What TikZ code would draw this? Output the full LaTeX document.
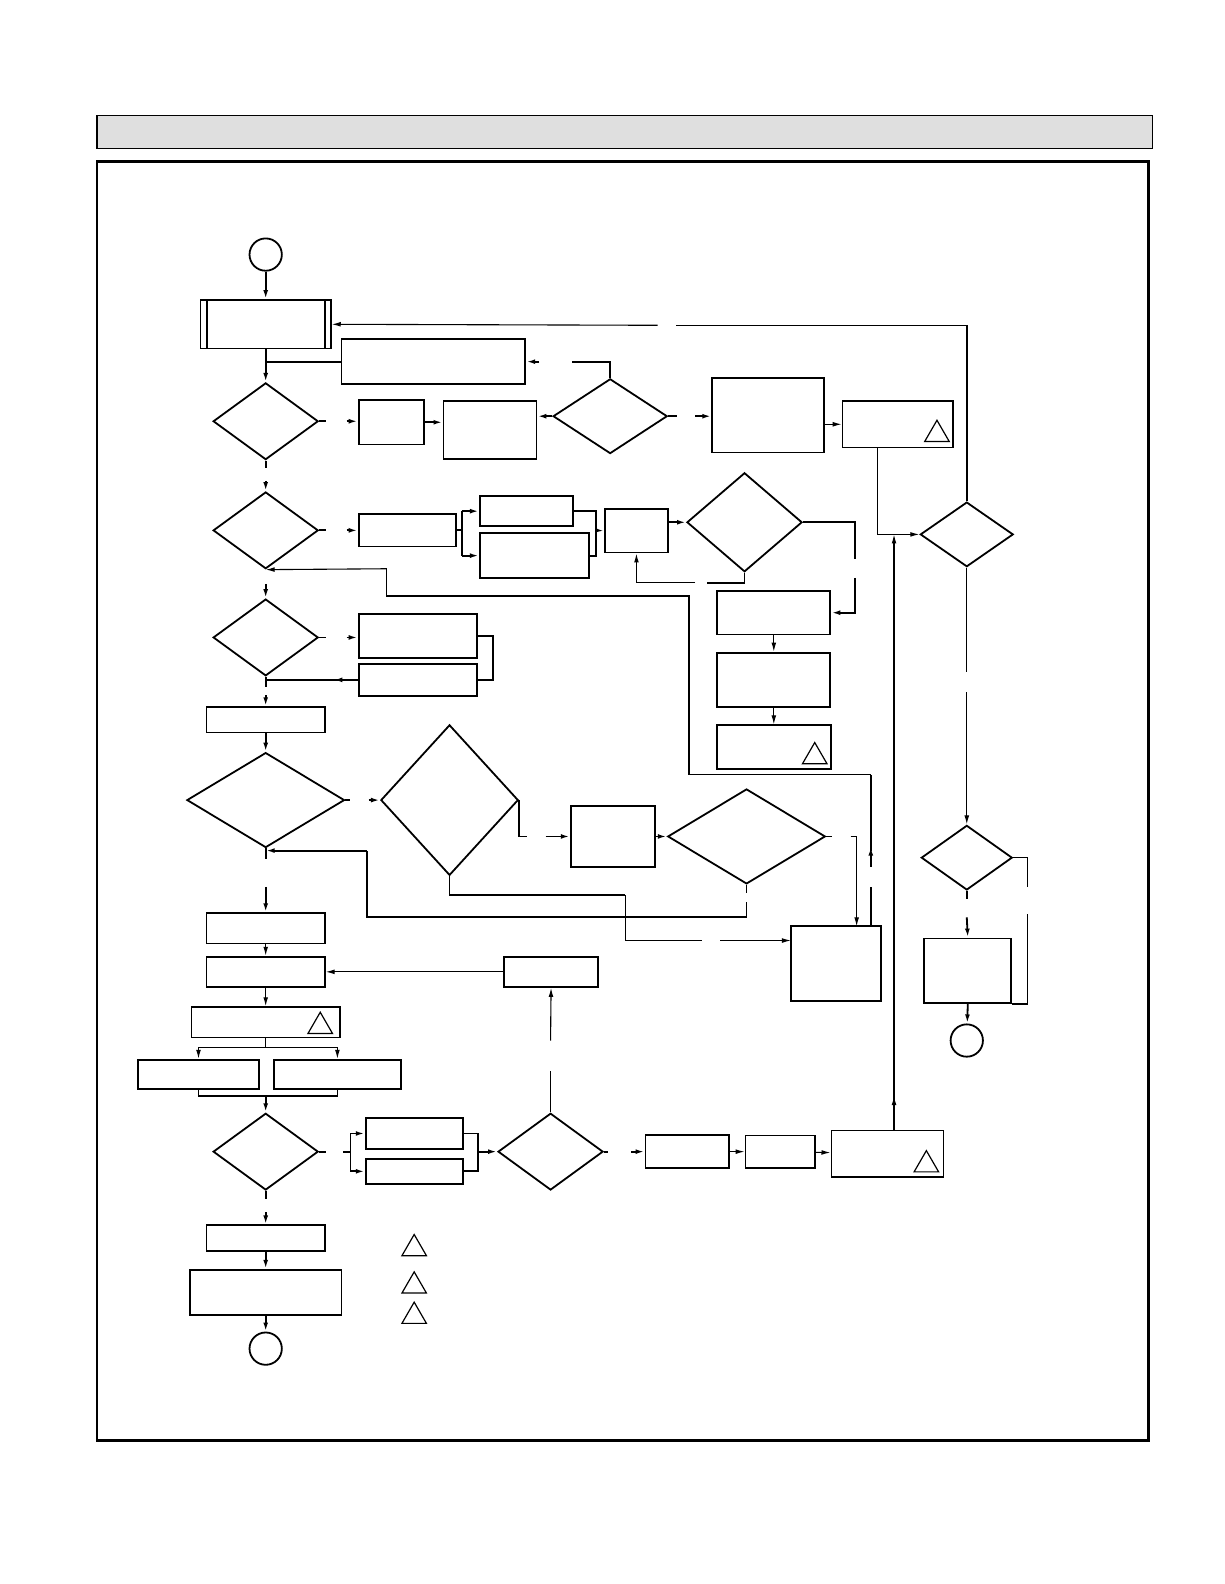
\documentclass[tikz,border=0pt]{standalone}
\usetikzlibrary{shapes.geometric,arrows.meta}
\def\pu{0.505pt}
\tikzset{wh/.style 2 args={minimum width=#1*\pu,minimum height=#2*\pu}}
\begin{document}
\begin{tikzpicture}[x=0.505pt,y=-0.505pt,>={Latex[length=4.5pt,width=2.4pt]}]
    \useasboundingbox (0,0) rectangle (1212,1568);
    \tikzstyle{bloc}=[draw,rectangle,line width=0.9pt,inner sep=0pt]
    \tikzstyle{test}=[draw,diamond,line width=0.9pt,inner sep=0pt]
    \tikzstyle{rond}=[draw,circle,line width=0.9pt,inner sep=0pt,minimum size=32*\pu]
    \tikzstyle{alerte}=[draw,regular polygon,regular polygon sides=3,line width=0.6pt,inner sep=0pt,minimum size=28*\pu]
    \tikzstyle{lien}=[line width=0.9pt]
    \tikzstyle{mince}=[line width=0.55pt]

    %%%%%%%%%%%%%%%%%%%%%%%%%%%%%%%%%%%%%% Cadre
    \draw[fill=gray!25,line width=0.6pt] (96,114) rectangle (1141,147);
    \draw[line width=1.4pt] (96,160) rectangle (1137,1426);

    %%%%%%%%%%%%%%%%%%%%%%%%%%%%%%%%%%%%%% Blocs
    \node[rond] (deb) at (263,252){};
    \node[bloc,wh={129}{48}] (b1) at (263,321){};
    \draw[lien] ([xshift=3.5pt]b1.north west) -- ([xshift=3.5pt]b1.south west);
    \draw[lien] ([xshift=-3.5pt]b1.north east) -- ([xshift=-3.5pt]b1.south east);
    \node[bloc,wh={182}{45}] (b2) at (429,358){};
    \node[bloc,wh={65}{44}] (b3) at (387.5,418){};
    \node[bloc,wh={92}{57}] (b4) at (485,425.5){};
    \node[bloc,wh={111}{74}] (b5) at (760.5,411){};
    \node[bloc,wh={109}{46}] (b6) at (888.5,420){};
    \node[bloc,wh={96}{32}] (b7) at (403,525){};
    \node[bloc,wh={92}{30}] (b8) at (521,506){};
    \node[bloc,wh={108}{44}] (b9) at (529,550){};
    \node[bloc,wh={62}{43}] (b10) at (630,525.5){};
    \node[bloc,wh={112}{43}] (b11) at (766,606.5){};
    \node[bloc,wh={112}{54}] (b12) at (766,673){};
    \node[bloc,wh={113}{43}] (b13) at (766,739.5){};
    \node[bloc,wh={117}{43}] (b14) at (413.5,629.5){};
    \node[bloc,wh={117}{32}] (b15) at (413.5,673){};
    \node[bloc,wh={117}{25}] (b16) at (263,712.5){};
    \node[bloc,wh={83}{60}] (b17) at (606.5,828){};
    \node[bloc,wh={89}{74}] (b18) at (827.5,954){};
    \node[bloc,wh={86}{64}] (b19) at (958,961){};
    \node[bloc,wh={117}{30}] (b20) at (263,919){};
    \node[bloc,wh={117}{30}] (b21) at (263,962){};
    \node[bloc,wh={93}{30}] (b22) at (545.5,962){};
    \node[bloc,wh={147}{30}] (b23) at (263,1012){};
    \node[bloc,wh={119}{29}] (b24) at (196.5,1063.5){};
    \node[bloc,wh={126}{29}] (b25) at (334,1063.5){};
    \node[bloc,wh={96}{30}] (b26) at (410,1122){};
    \node[bloc,wh={96}{25}] (b27) at (410,1159.5){};
    \node[bloc,wh={83}{33}] (b28) at (680.5,1140){};
    \node[bloc,wh={69}{32}] (b29) at (772.5,1140){};
    \node[bloc,wh={111}{46}] (b30) at (878.5,1142){};
    \node[bloc,wh={117}{25}] (b31) at (263,1225.5){};
    \node[bloc,wh={150}{45}] (b32) at (263,1279.5){};
    \node[rond] (fin1) at (263,1335){};
    \node[rond] (fin2) at (957,1030){};

    %%%%%%%%%%%%%%%%%%%%%%%%%%%%%%%%%%%%%% Tests
    \node[test,wh={104}{76}] (q1) at (263,417){};
    \node[test,wh={104}{76}] (q2) at (263,525){};
    \node[test,wh={113}{74}] (q3) at (604,412){};
    \node[test,wh={114}{98}] (q4) at (737,517){};
    \node[test,wh={92}{64}] (q5) at (957,529){};
    \node[test,wh={90}{64}] (q6) at (957,849){};
    \node[test,wh={104}{76}] (q7) at (263,631){};
    \node[test,wh={156}{94}] (q8) at (263,792){};
    \node[test,wh={136}{149}] (q9) at (445,792){};
    \node[test,wh={156}{94}] (q10) at (739,828){};
    \node[test,wh={104}{76}] (q11) at (263,1140){};
    \node[test,wh={104}{76}] (q12) at (545,1140){};

    %%%%%%%%%%%%%%%%%%%%%%%%%%%%%%%%%%%%%% Triangles
    \node[alerte] (a1) at (927.5,430){};
    \node[alerte] (a2) at (806.5,749){};
    \node[alerte] (a3) at (317,1016){};
    \node[alerte] (a4) at (917,1153){};
    \node[alerte] (l1) at (410,1236){};
    \node[alerte] (l2) at (410,1273){};
    \node[alerte] (l3) at (410,1303){};

    %%%%%%%%%%%%%%%%%%%%%%%%%%%%%%%%%%%%%% Ligne 1
    \draw[->,lien] (deb) -- (b1);
    \draw[->,lien] (b1) -- (q1);
    \draw[lien] (b1.south |- b2.west) -- (b2.west);
    \draw[lien] (q1.east) -- ++(7,0);
    \coordinate (g1) at (343,417);
    \draw[->,lien] (g1) -- (b3.west |- g1);
    \draw[->,lien] (b3.east) -- (b4.west |- b3.east);
    \draw[->,lien] (q3.west) -- (b4.east |- q3.west);
    \draw[lien] (q3.north) |- (566,358);
    \draw[->,lien] (534,358) -- (b2.east);
    \draw[lien] (q3.east) -- ++(9,0);
    \draw[->,lien] (688,412) -- (b5.west |- q3.east);
    \draw[->,mince] (b5.east |- b6.west) -- (b6.west);
    \draw[->,mince] (869,443) |- (q5.west);
    \draw[->,mince] (885,1119) -- (885,1085);
    \draw[->,mince] (885,1090) -- (885,529);
    \draw[lien] (q5.north) -- (957,322);
    \draw[mince] (957,322) -- (669,322);
    \draw[->,mince] (651,322) -- (b1.east);
    \draw[mince] (q5.south) -- (957,665);
    \draw[->,mince] (957,685) -- (q6.north);
    \draw[mince] (q6.east) -| (1017,878);
    \draw[mince] (1017,905) |- (b19.south east);
    \draw[lien] (q6.south) -- (957,890);
    \draw[->,lien] (957,908) -- (b19.north);
    \draw[->,lien] (b19.south) -- (fin2);

    %%%%%%%%%%%%%%%%%%%%%%%%%%%%%%%%%%%%%% Ligne 2
    \draw[lien] (q1.south) -- ++(0,7);
    \draw[->,lien] (263,476) -- (q2.north);
    \draw[lien] (q2.east) -- ++(7,0);
    \draw[->,lien] (343,525) -- (b7.west);
    \draw[lien] (b7.east) -- (457,525);
    \draw[lien] (457,506) -- (457,550);
    \draw[->,lien] (457,506) -- (b8.west);
    \draw[->,lien] (457,550) -- (b9.west);
    \draw[lien] (b8.east) -| (590,550) -- (b9.east);
    \draw[->,lien] (590,525) -- (b10.west);
    \draw[->,lien] (b10.east |- q4.west) -- (q4.west);
    \draw[lien] (q4.east) -| (846,553);
    \draw[->,lien] (846,572) |- (b11.east);
    \draw[lien] (q4.south) |- (700,577);
    \draw[->,mince] (688,577) -| (b10.south);
    \draw[->,mince] (b11) -- (b12);
    \draw[->,mince] (b12) -- (b13);
    \draw[lien] (862,917) -- (862,878);
    \draw[->,lien] (862,858) -- (862,838);
    \draw[lien] (862,842) -- (862,767);
    \draw[mince] (862,767) -| (682,590) -| (383,563);
    \draw[->,mince] (383,563) -- (q2.south);

    %%%%%%%%%%%%%%%%%%%%%%%%%%%%%%%%%%%%%% Ligne 3
    \draw[->,lien] (263,578) -- (q7.north);
    \draw[lien] (q7.east) -- ++(7,0);
    \draw[->,lien] (343,631) -- (b14.west |- q7.east);
    \draw[lien] (b14.east) -| (488,673) -- (b15.east);
    \draw[lien] (b15.west) -- (263,673);
    \draw[->,lien] (b15.west) -- (330,673);
    \draw[lien] (q7.south) -- (263,680);
    \draw[->,lien] (263,688) -- (b16.north);
    \draw[->,lien] (b16) -- (q8);

    %%%%%%%%%%%%%%%%%%%%%%%%%%%%%%%%%%%%%% Ligne 4
    \draw[lien] (q8.east) -- ++(5,0);
    \draw[->,lien] (365,792) -- (q9.west);
    \draw[lien] (q9.east) |- (522,828);
    \draw[->,lien] (540,828) -- (b17.west);
    \draw[->,lien] (b17.east) -- (q10.west);
    \draw[mince] (q10.east) -- ++(6,0);
    \draw[->,mince] (842,828) -| (848,917);
    \draw[lien] (q10.south) -- (739,884);
    \draw[lien] (739,893) -- (739,908) -| (363,842);
    \draw[->,lien] (363,842) -- (263,842);
    \draw[lien] (q9.south) |- (619,886);
    \draw[mince] (619,886) |- (695,931);
    \draw[->,mince] (713,931) -- (783,931);
    \draw[lien] (q8.south) -- (263,850);
    \draw[->,lien] (263,878) -- (b20.north);

    %%%%%%%%%%%%%%%%%%%%%%%%%%%%%%%%%%%%%% Bas
    \draw[->,mince] (b20) -- (b21);
    \draw[->,mince] (b22.west) -- (b21.east);
    \draw[->,mince] (b21) -- (b23);
    \draw[->,mince] (b23.south) -- ++(0,9) -| (b24.north);
    \draw[->,mince] (b23.south) ++(0,9) -| (b25.north);
    \draw[lien] (b24.south) -- ++(0,6) -| (b25.south);
    \draw[->,lien] (263,1084) -- (q11.north);
    \draw[lien] (q11.east) -- ++(7,0);
    \draw[lien] (340,1140) -- (347,1140);
    \draw[->,lien] (347,1140) |- (b26.west);
    \draw[->,lien] (347,1140) |- (b27.west);
    \draw[lien] (b26.east) -| (473,1159.5) -- (b27.east);
    \draw[->,lien] (473,1140) -- (q12.west);
    \draw[lien] (q12.east) -- ++(4,0);
    \draw[->,lien] (625,1140) -- (b28.west);
    \draw[->,mince] (b28) -- (b29);
    \draw[->,mince] (b29) -- (b30);
    \draw[mince] (q12.north) -- (545,1060);
    \draw[->,mince] (545,1030) -- (b22.south);
    \draw[lien] (q11.south) -- ++(0,8);
    \draw[->,lien] (263,1200) -- (b31.north);
    \draw[->,lien] (b31) -- (b32);
    \draw[->,lien] (b32) -- (fin1);
\end{tikzpicture}
\end{document}
